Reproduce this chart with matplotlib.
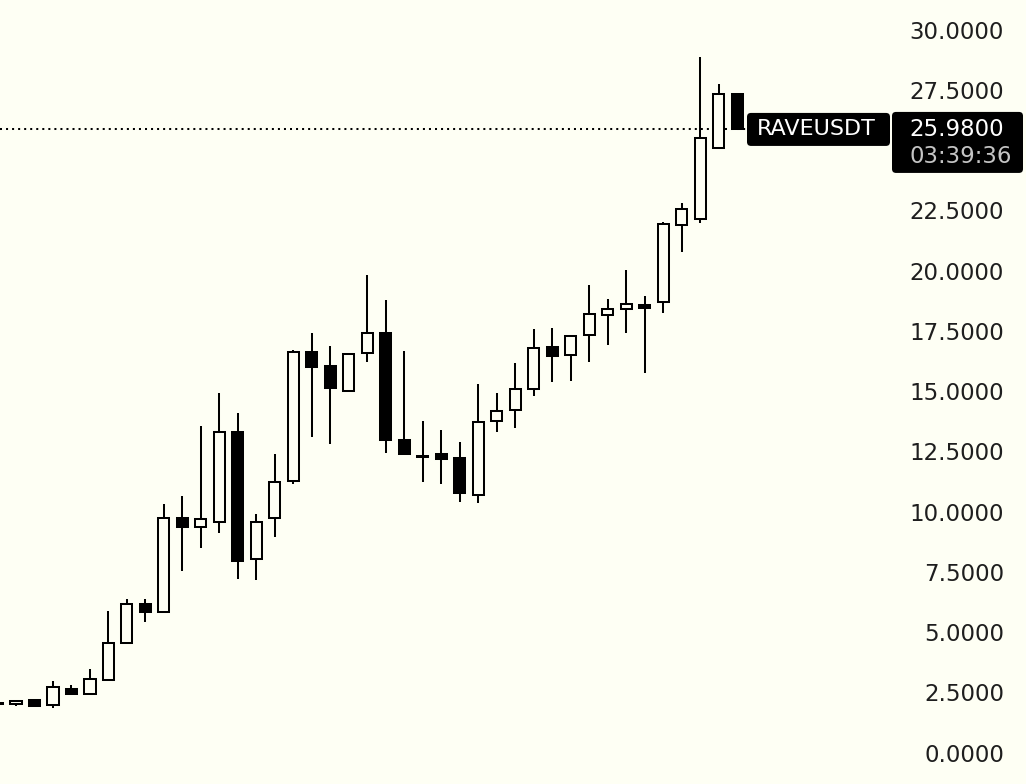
import matplotlib
matplotlib.use("Agg")
import matplotlib.pyplot as plt
from matplotlib.patches import Rectangle, FancyBboxPatch
from matplotlib.transforms import blended_transform_factory, IdentityTransform

# ---- data ----
opens = [2.12, 2.12, 2.28, 2.07, 2.74, 2.53, 3.11, 4.65, 6.27, 5.93,
         9.83, 9.46, 9.67, 13.40, 8.13, 9.83, 11.37, 16.72, 16.14, 15.10,
         16.68, 17.51, 13.07, 12.40, 12.49, 12.32, 10.79, 13.86, 14.32, 15.19,
         16.93, 16.60, 17.43, 18.26, 18.51, 18.67, 18.80, 21.99, 22.24, 25.19,
         27.43]
highs = [2.12, 2.24, 2.28, 3.07, 2.90, 3.57, 5.98, 6.47, 6.47, 10.41,
         10.75, 13.65, 15.02, 14.19, 10.00, 12.49, 16.80, 17.51, 16.97, 16.64,
         19.92, 18.88, 16.76, 13.86, 13.49, 12.99, 15.39, 15.02, 16.27, 17.68,
         17.72, 17.39, 19.50, 18.92, 20.12, 19.05, 22.12, 22.90, 28.96, 27.84,
         27.43]
lows = [2.12, 2.03, 1.99, 1.95, 2.50, 2.53, 3.11, 4.65, 5.52, 5.93,
        7.63, 8.59, 9.21, 7.30, 7.26, 9.05, 11.24, 13.20, 12.90, 15.06,
        16.31, 12.53, 12.45, 11.33, 11.24, 10.50, 10.46, 13.40, 13.57, 14.90,
        15.48, 15.52, 16.31, 17.01, 17.51, 15.85, 18.34, 20.87, 22.07, 25.19,
        25.98]
closes = [2.12, 2.24, 2.03, 2.82, 2.53, 3.15, 4.65, 6.27, 5.93, 9.83,
          9.46, 9.79, 13.40, 8.05, 9.67, 11.33, 16.72, 16.10, 15.23, 16.64,
          17.51, 13.07, 12.49, 12.36, 12.28, 10.87, 13.82, 14.27, 15.19, 16.89,
          16.56, 17.39, 18.30, 18.51, 18.71, 18.55, 22.03, 22.66, 25.60, 27.43,
          25.98]
symbol = "RAVEUSDT"
last_price = 25.98
countdown = "03:39:36"
tick_values = [0.0, 2.5, 5.0, 7.5, 10.0, 12.5, 15.0, 17.5, 20.0, 22.5, 25.0, 27.5, 30.0]

BG = "#fefff4"
W, H = 1026, 784

fig = plt.figure(figsize=(W / 100, H / 100), dpi=100, facecolor=BG)
ax = fig.add_axes([0, 0, 1, 1])
ax.set_facecolor(BG)
ax.set_axis_off()
ax.set_xlim(0.1347, 55.62)
ax.set_ylim(-1.203, 31.33)

body_w = 0.60
lw = 1.45
for i, (o, h, l, c) in enumerate(zip(opens, highs, lows, closes)):
    ax.vlines(i, l, h, color="black", linewidth=lw, zorder=2)
    up = c >= o
    bottom = min(o, c)
    height = max(abs(c - o), 0.02)
    ax.add_patch(Rectangle((i - body_w / 2, bottom), body_w, height,
                           facecolor=BG if up else "black",
                           edgecolor="black", linewidth=lw, zorder=3))

fig.canvas.draw()
# pixel position of last price
_, py = ax.transData.transform((0, last_price))

# dotted last-price line
ax.plot([0.1347, 0.1347 + (747 / W) * (55.62 - 0.1347)], [last_price, last_price],
        color="black", linewidth=1.45, linestyle=(0, (1, 2)), zorder=1)

# tick labels on right
tr = blended_transform_factory(ax.transAxes, ax.transData)
for v in tick_values:
    if abs(v - 25.0) < 1e-9:
        continue  # hidden behind price label
    ax.text(1004 / W, v, f"{v:.4f}", transform=tr, ha="right", va="center",
            fontsize=16.5, color="#1e1e1e", family="DejaVu Sans")

idt = IdentityTransform()
# symbol label box (pixel coords; y measured from bottom)
sym_box = FancyBboxPatch((747, py - 17), 143, 33,
                         boxstyle="round,pad=0,rounding_size=4",
                         transform=idt, facecolor="black", edgecolor="none", zorder=5)
fig.patches.append(sym_box)
fig.text(757 / W, (py - 0.5) / H, symbol, color="white", fontsize=16,
         ha="left", va="center", family="DejaVu Sans", zorder=6)

# price + countdown box
price_box = FancyBboxPatch((892, py - 44), 131, 61,
                           boxstyle="round,pad=0,rounding_size=4",
                           transform=idt, facecolor="black", edgecolor="none", zorder=5)
fig.patches.append(price_box)
fig.text(1004 / W, (py - 0.5) / H, f"{last_price:.4f}", color="white", fontsize=16.5,
         ha="right", va="center", family="DejaVu Sans", zorder=6)
fig.text(1012 / W, (py - 28) / H, countdown, color="#c4c4c4", fontsize=16.5,
         ha="right", va="center", family="DejaVu Sans", zorder=6)

fig.savefig("out.png", dpi=100, facecolor=BG)
